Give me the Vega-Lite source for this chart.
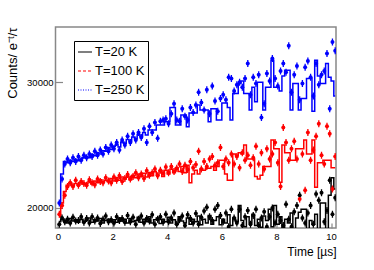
{
"$schema": "https://vega.github.io/schema/vega-lite/v6.json",
"width": 280.5, "height": 201,
"autosize": {"type": "none"},
"padding": {"left": 55.5, "top": 27, "right": 38, "bottom": 42},
"background": "white",
"config": {
  "view": {"stroke": "#888888", "strokeWidth": 1.5},
  "font": "Liberation Sans",
  "axis": {"domain": false, "grid": false, "tickColor": "#888888", "tickWidth": 1.2, "labelFont": "Liberation Sans", "titleFont": "Liberation Sans", "labelColor": "black", "titleColor": "black", "titleFontWeight": "normal", "labelFontSize": 9.5, "titleFontSize": 12}
},
"datasets": {
"d": [
{"s":"T=20 K","t":0.05,"h":18900,"p":18700},{"s":"T=20 K","t":0.15,"h":19100,"p":19200},{"s":"T=20 K","t":0.25,"h":19000,"p":18900},{"s":"T=20 K","t":0.35,"h":18800,"p":19100},{"s":"T=20 K","t":0.45,"h":19150,"p":18800},{"s":"T=20 K","t":0.55,"h":18950,"p":19250},{"s":"T=20 K","t":0.65,"h":19050,"p":18950},{"s":"T=20 K","t":0.75,"h":18850,"p":19000},{"s":"T=20 K","t":0.85,"h":19100,"p":19300},{"s":"T=20 K","t":0.95,"h":18900,"p":18850},
{"s":"T=20 K","t":1.05,"h":19000,"p":19150},{"s":"T=20 K","t":1.15,"h":19200,"p":18800},{"s":"T=20 K","t":1.25,"h":18850,"p":19300},{"s":"T=20 K","t":1.35,"h":19050,"p":18950},{"s":"T=20 K","t":1.45,"h":18950,"p":19200},{"s":"T=20 K","t":1.55,"h":19150,"p":18750},{"s":"T=20 K","t":1.65,"h":18800,"p":19100},{"s":"T=20 K","t":1.75,"h":19000,"p":19350},{"s":"T=20 K","t":1.85,"h":19100,"p":18900},{"s":"T=20 K","t":1.95,"h":18900,"p":19050},
{"s":"T=20 K","t":2.05,"h":19050,"p":18800},{"s":"T=20 K","t":2.15,"h":18850,"p":19300},{"s":"T=20 K","t":2.25,"h":19200,"p":19000},{"s":"T=20 K","t":2.35,"h":18950,"p":19150},{"s":"T=20 K","t":2.45,"h":19100,"p":18850},{"s":"T=20 K","t":2.55,"h":18800,"p":19400},{"s":"T=20 K","t":2.65,"h":19150,"p":18900},{"s":"T=20 K","t":2.75,"h":18900,"p":19250},{"s":"T=20 K","t":2.85,"h":19000,"p":18700},{"s":"T=20 K","t":2.95,"h":19250,"p":19100},
{"s":"T=20 K","t":3.05,"h":18850,"p":19350},{"s":"T=20 K","t":3.15,"h":19100,"p":18800},{"s":"T=20 K","t":3.25,"h":18900,"p":19150},{"s":"T=20 K","t":3.35,"h":19300,"p":18950},{"s":"T=20 K","t":3.45,"h":18800,"p":19450},{"s":"T=20 K","t":3.55,"h":19050,"p":18700},{"s":"T=20 K","t":3.65,"h":19200,"p":19100},{"s":"T=20 K","t":3.75,"h":18750,"p":19300},{"s":"T=20 K","t":3.85,"h":19100,"p":18850},{"s":"T=20 K","t":3.95,"h":18900,"p":19500},
{"s":"T=20 K","t":4.05,"h":19250,"p":18900},{"s":"T=20 K","t":4.15,"h":18800,"p":19200},{"s":"T=20 K","t":4.25,"h":19050,"p":19600},{"s":"T=20 K","t":4.35,"h":18700,"p":18700},{"s":"T=20 K","t":4.45,"h":19300,"p":19050},{"s":"T=20 K","t":4.55,"h":18950,"p":19350},{"s":"T=20 K","t":4.65,"h":18800,"p":18600},{"s":"T=20 K","t":4.75,"h":19200,"p":19450},{"s":"T=20 K","t":4.85,"h":18700,"p":19150},{"s":"T=20 K","t":4.95,"h":19100,"p":18800},
{"s":"T=20 K","t":5.05,"h":18900,"p":19550},{"s":"T=20 K","t":5.15,"h":19350,"p":18700},{"s":"T=20 K","t":5.25,"h":18650,"p":19250},{"s":"T=20 K","t":5.35,"h":19100,"p":19750},{"s":"T=20 K","t":5.45,"h":18800,"p":20050},{"s":"T=20 K","t":5.55,"h":19400,"p":19300},{"s":"T=20 K","t":5.65,"h":18700,"p":19000},{"s":"T=20 K","t":5.75,"h":19000,"p":19900},{"s":"T=20 K","t":5.85,"h":19300,"p":20200},{"s":"T=20 K","t":5.95,"h":18650,"p":19400},
{"s":"T=20 K","t":6.05,"h":19100,"p":18900},{"s":"T=20 K","t":6.15,"h":18800,"p":19600},{"s":"T=20 K","t":6.25,"h":19450,"p":18500},{"s":"T=20 K","t":6.35,"h":18600,"p":19900},{"s":"T=20 K","t":6.45,"h":19200,"p":19200},{"s":"T=20 K","t":6.55,"h":18900,"p":18800},{"s":"T=20 K","t":6.65,"h":20200,"p":19900},{"s":"T=20 K","t":6.75,"h":19000,"p":18600},{"s":"T=20 K","t":6.85,"h":18500,"p":19300},{"s":"T=20 K","t":6.95,"h":19300,"p":19800},
{"s":"T=20 K","t":7.05,"h":18800,"p":18700},{"s":"T=20 K","t":7.15,"h":19500,"p":19400},{"s":"T=20 K","t":7.25,"h":18600,"p":19900},{"s":"T=20 K","t":7.35,"h":19100,"p":18600},{"s":"T=20 K","t":7.45,"h":18450,"p":19200},{"s":"T=20 K","t":7.55,"h":19350,"p":19700},{"s":"T=20 K","t":7.65,"h":19000,"p":18500},{"s":"T=20 K","t":7.75,"h":19900,"p":19300},{"s":"T=20 K","t":7.85,"h":18500,"p":20000},{"s":"T=20 K","t":7.95,"h":20200,"p":18800},
{"s":"T=20 K","t":8.05,"h":18700,"p":19500},{"s":"T=20 K","t":8.15,"h":19300,"p":19000},{"s":"T=20 K","t":8.25,"h":18400,"p":18600},{"s":"T=20 K","t":8.35,"h":19100,"p":20300},{"s":"T=20 K","t":8.45,"h":18800,"p":19100},{"s":"T=20 K","t":8.55,"h":19600,"p":18500},{"s":"T=20 K","t":8.65,"h":18300,"p":19700},{"s":"T=20 K","t":8.75,"h":19200,"p":20200},{"s":"T=20 K","t":8.85,"h":19650,"p":21000},{"s":"T=20 K","t":8.95,"h":19900,"p":19200},
{"s":"T=20 K","t":9.05,"h":19900,"p":18800},{"s":"T=20 K","t":9.15,"h":18000,"p":19600},{"s":"T=20 K","t":9.25,"h":19000,"p":20200},{"s":"T=20 K","t":9.35,"h":18700,"p":18700},{"s":"T=20 K","t":9.45,"h":19500,"p":21100},{"s":"T=20 K","t":9.55,"h":18100,"p":20600},{"s":"T=20 K","t":9.65,"h":20400,"p":21200},{"s":"T=20 K","t":9.75,"h":20400,"p":18900},{"s":"T=20 K","t":9.85,"h":18200,"p":19800},{"s":"T=20 K","t":9.95,"h":21000,"p":22200},
{"s":"T=20 K","t":10.05,"h":22400,"p":19500},{"s":"T=20 K","t":10.15,"h":21500,"p":20800},

{"s":"T=100 K","t":0.05,"h":19300,"p":19500},{"s":"T=100 K","t":0.15,"h":20400,"p":20200},{"s":"T=100 K","t":0.25,"h":21300,"p":21000},{"s":"T=100 K","t":0.35,"h":21800,"p":21700},{"s":"T=100 K","t":0.45,"h":22000,"p":22000},{"s":"T=100 K","t":0.55,"h":21800,"p":21700},{"s":"T=100 K","t":0.65,"h":21950,"p":22200},{"s":"T=100 K","t":0.75,"h":21850,"p":21800},{"s":"T=100 K","t":0.85,"h":22000,"p":22100},{"s":"T=100 K","t":0.95,"h":21900,"p":21950},
{"s":"T=100 K","t":1.05,"h":21950,"p":21800},{"s":"T=100 K","t":1.15,"h":22100,"p":22250},{"s":"T=100 K","t":1.25,"h":21900,"p":22000},{"s":"T=100 K","t":1.35,"h":22150,"p":21850},{"s":"T=100 K","t":1.45,"h":22000,"p":22300},{"s":"T=100 K","t":1.55,"h":22250,"p":22100},{"s":"T=100 K","t":1.65,"h":22050,"p":22000},{"s":"T=100 K","t":1.75,"h":22200,"p":22400},{"s":"T=100 K","t":1.85,"h":22100,"p":22150},{"s":"T=100 K","t":1.95,"h":22350,"p":22000},
{"s":"T=100 K","t":2.05,"h":22150,"p":22450},{"s":"T=100 K","t":2.15,"h":22400,"p":22200},{"s":"T=100 K","t":2.25,"h":22200,"p":22550},{"s":"T=100 K","t":2.35,"h":22450,"p":22100},{"s":"T=100 K","t":2.45,"h":22300,"p":22350},{"s":"T=100 K","t":2.55,"h":22500,"p":22650},{"s":"T=100 K","t":2.65,"h":22250,"p":22300},{"s":"T=100 K","t":2.75,"h":22600,"p":22500},{"s":"T=100 K","t":2.85,"h":22400,"p":22800},{"s":"T=100 K","t":2.95,"h":22700,"p":22400},
{"s":"T=100 K","t":3.05,"h":22500,"p":22700},{"s":"T=100 K","t":3.15,"h":22750,"p":22350},{"s":"T=100 K","t":3.25,"h":22450,"p":22950},{"s":"T=100 K","t":3.35,"h":22800,"p":22600},{"s":"T=100 K","t":3.45,"h":22550,"p":22800},{"s":"T=100 K","t":3.55,"h":22900,"p":23100},{"s":"T=100 K","t":3.65,"h":22600,"p":22550},{"s":"T=100 K","t":3.75,"h":22950,"p":23000},{"s":"T=100 K","t":3.85,"h":22500,"p":22750},{"s":"T=100 K","t":3.95,"h":23000,"p":23250},
{"s":"T=100 K","t":4.05,"h":22700,"p":22800},{"s":"T=100 K","t":4.15,"h":23100,"p":23300},{"s":"T=100 K","t":4.25,"h":22800,"p":22900},{"s":"T=100 K","t":4.35,"h":23200,"p":23150},{"s":"T=100 K","t":4.45,"h":22900,"p":23500},{"s":"T=100 K","t":4.55,"h":23300,"p":22900},{"s":"T=100 K","t":4.65,"h":22800,"p":23400},{"s":"T=100 K","t":4.75,"h":23400,"p":23050},{"s":"T=100 K","t":4.85,"h":22000,"p":23700},{"s":"T=100 K","t":4.95,"h":22700,"p":23200},
{"s":"T=100 K","t":5.05,"h":23000,"p":23450},{"s":"T=100 K","t":5.15,"h":22700,"p":24500},{"s":"T=100 K","t":5.25,"h":23100,"p":23100},{"s":"T=100 K","t":5.35,"h":23000,"p":23700},{"s":"T=100 K","t":5.45,"h":23150,"p":23300},{"s":"T=100 K","t":5.55,"h":23150,"p":23900},{"s":"T=100 K","t":5.65,"h":23300,"p":24100},{"s":"T=100 K","t":5.75,"h":23000,"p":23400},{"s":"T=100 K","t":5.85,"h":23300,"p":23600},{"s":"T=100 K","t":5.95,"h":23800,"p":24800},
{"s":"T=100 K","t":6.05,"h":23800,"p":23300},{"s":"T=100 K","t":6.15,"h":22700,"p":23900},{"s":"T=100 K","t":6.25,"h":22200,"p":23600},{"s":"T=100 K","t":6.35,"h":22200,"p":24300},{"s":"T=100 K","t":6.45,"h":24300,"p":23500},{"s":"T=100 K","t":6.55,"h":24200,"p":24100},{"s":"T=100 K","t":6.65,"h":24400,"p":23200},{"s":"T=100 K","t":6.75,"h":24300,"p":24400},{"s":"T=100 K","t":6.85,"h":25000,"p":23800},{"s":"T=100 K","t":6.95,"h":23900,"p":24200},
{"s":"T=100 K","t":7.05,"h":23900,"p":23400},{"s":"T=100 K","t":7.15,"h":23900,"p":24000},{"s":"T=100 K","t":7.25,"h":22500,"p":24900},{"s":"T=100 K","t":7.35,"h":22300,"p":23500},{"s":"T=100 K","t":7.45,"h":22600,"p":24400},{"s":"T=100 K","t":7.55,"h":23300,"p":23100},{"s":"T=100 K","t":7.65,"h":23300,"p":24700},{"s":"T=100 K","t":7.75,"h":23300,"p":23900},{"s":"T=100 K","t":7.85,"h":25400,"p":24300},{"s":"T=100 K","t":7.95,"h":24700,"p":25200},
{"s":"T=100 K","t":8.05,"h":24700,"p":23600},{"s":"T=100 K","t":8.15,"h":22050,"p":21700},{"s":"T=100 K","t":8.25,"h":25000,"p":26400},{"s":"T=100 K","t":8.35,"h":24400,"p":25200},{"s":"T=100 K","t":8.45,"h":24400,"p":23800},{"s":"T=100 K","t":8.55,"h":23800,"p":24700},{"s":"T=100 K","t":8.65,"h":23800,"p":25300},{"s":"T=100 K","t":8.75,"h":24700,"p":23900},{"s":"T=100 K","t":8.85,"h":24700,"p":20700},{"s":"T=100 K","t":8.95,"h":24700,"p":24300},
{"s":"T=100 K","t":9.05,"h":25400,"p":21400},{"s":"T=100 K","t":9.15,"h":24300,"p":26000},{"s":"T=100 K","t":9.25,"h":24300,"p":23800},{"s":"T=100 K","t":9.35,"h":25400,"p":24600},{"s":"T=100 K","t":9.45,"h":21650,"p":25700},{"s":"T=100 K","t":9.55,"h":23600,"p":26700},{"s":"T=100 K","t":9.65,"h":23600,"p":24200},{"s":"T=100 K","t":9.75,"h":23800,"p":23500},{"s":"T=100 K","t":9.85,"h":23800,"p":26500},{"s":"T=100 K","t":9.95,"h":23800,"p":25900},
{"s":"T=100 K","t":10.05,"h":23200,"p":21500},{"s":"T=100 K","t":10.15,"h":23200,"p":24100},

{"s":"T=250 K","t":0.05,"h":20500,"p":20400},{"s":"T=250 K","t":0.15,"h":22700,"p":22300},{"s":"T=250 K","t":0.25,"h":23700,"p":23500},{"s":"T=250 K","t":0.35,"h":23600,"p":23900},{"s":"T=250 K","t":0.45,"h":23800,"p":23600},{"s":"T=250 K","t":0.55,"h":23700,"p":24000},{"s":"T=250 K","t":0.65,"h":23850,"p":23700},{"s":"T=250 K","t":0.75,"h":23750,"p":24100},{"s":"T=250 K","t":0.85,"h":23900,"p":23800},{"s":"T=250 K","t":0.95,"h":24000,"p":24200},
{"s":"T=250 K","t":1.05,"h":24100,"p":24000},{"s":"T=250 K","t":1.15,"h":24000,"p":24300},{"s":"T=250 K","t":1.25,"h":24250,"p":24100},{"s":"T=250 K","t":1.35,"h":24150,"p":24500},{"s":"T=250 K","t":1.45,"h":24400,"p":24200},{"s":"T=250 K","t":1.55,"h":24300,"p":24600},{"s":"T=250 K","t":1.65,"h":24550,"p":24300},{"s":"T=250 K","t":1.75,"h":24500,"p":24800},{"s":"T=250 K","t":1.85,"h":24800,"p":24500},{"s":"T=250 K","t":1.95,"h":24650,"p":25000},
{"s":"T=250 K","t":2.05,"h":24900,"p":24700},{"s":"T=250 K","t":2.15,"h":25050,"p":25200},{"s":"T=250 K","t":2.25,"h":24850,"p":24600},{"s":"T=250 K","t":2.35,"h":25250,"p":25400},{"s":"T=250 K","t":2.45,"h":25150,"p":25000},{"s":"T=250 K","t":2.55,"h":25450,"p":25700},{"s":"T=250 K","t":2.65,"h":25300,"p":25200},{"s":"T=250 K","t":2.75,"h":25650,"p":25900},{"s":"T=250 K","t":2.85,"h":25500,"p":25400},{"s":"T=250 K","t":2.95,"h":25850,"p":26000},
{"s":"T=250 K","t":3.05,"h":25700,"p":25600},{"s":"T=250 K","t":3.15,"h":26000,"p":26300},{"s":"T=250 K","t":3.25,"h":25800,"p":25200},{"s":"T=250 K","t":3.35,"h":26200,"p":26500},{"s":"T=250 K","t":3.45,"h":26200,"p":26000},{"s":"T=250 K","t":3.55,"h":26200,"p":26800},{"s":"T=250 K","t":3.65,"h":26600,"p":25550},{"s":"T=250 K","t":3.75,"h":26600,"p":26900},{"s":"T=250 K","t":3.85,"h":26600,"p":27000},{"s":"T=250 K","t":3.95,"h":26850,"p":27100},
{"s":"T=250 K","t":4.05,"h":26850,"p":26700},{"s":"T=250 K","t":4.15,"h":28000,"p":27500},{"s":"T=250 K","t":4.25,"h":28000,"p":28300},{"s":"T=250 K","t":4.35,"h":26600,"p":27000},{"s":"T=250 K","t":4.45,"h":26600,"p":26900},{"s":"T=250 K","t":4.55,"h":27400,"p":27900},{"s":"T=250 K","t":4.65,"h":27400,"p":27300},{"s":"T=250 K","t":4.75,"h":26450,"p":27000},{"s":"T=250 K","t":4.85,"h":27550,"p":28000},{"s":"T=250 K","t":4.95,"h":27550,"p":27600},
{"s":"T=250 K","t":5.05,"h":27550,"p":28200},{"s":"T=250 K","t":5.15,"h":28200,"p":29200},{"s":"T=250 K","t":5.25,"h":27800,"p":28400},{"s":"T=250 K","t":5.35,"h":27800,"p":27800},{"s":"T=250 K","t":5.45,"h":27800,"p":29400},{"s":"T=250 K","t":5.55,"h":26850,"p":27500},{"s":"T=250 K","t":5.65,"h":27900,"p":29700},{"s":"T=250 K","t":5.75,"h":27900,"p":28500},{"s":"T=250 K","t":5.85,"h":27000,"p":27700},{"s":"T=250 K","t":5.95,"h":27000,"p":28700},
{"s":"T=250 K","t":6.05,"h":28350,"p":29000},{"s":"T=250 K","t":6.15,"h":28350,"p":28600},{"s":"T=250 K","t":6.25,"h":28000,"p":30400},{"s":"T=250 K","t":6.35,"h":27000,"p":30300},{"s":"T=250 K","t":6.45,"h":29100,"p":29300},{"s":"T=250 K","t":6.55,"h":29100,"p":29800},{"s":"T=250 K","t":6.65,"h":29900,"p":30000},{"s":"T=250 K","t":6.75,"h":30100,"p":29600},{"s":"T=250 K","t":6.85,"h":29100,"p":30300},{"s":"T=250 K","t":6.95,"h":29100,"p":31500},
{"s":"T=250 K","t":7.05,"h":27800,"p":29000},{"s":"T=250 K","t":7.15,"h":29600,"p":30400},{"s":"T=250 K","t":7.25,"h":28450,"p":29900},{"s":"T=250 K","t":7.35,"h":30000,"p":30600},{"s":"T=250 K","t":7.45,"h":30000,"p":27200},{"s":"T=250 K","t":7.55,"h":27800,"p":28300},{"s":"T=250 K","t":7.65,"h":29600,"p":30700},{"s":"T=250 K","t":7.75,"h":29600,"p":30100},{"s":"T=250 K","t":7.85,"h":31750,"p":31900},{"s":"T=250 K","t":7.95,"h":29600,"p":30300},
{"s":"T=250 K","t":8.05,"h":29600,"p":29700},{"s":"T=250 K","t":8.15,"h":29300,"p":30900},{"s":"T=250 K","t":8.25,"h":30500,"p":31500},{"s":"T=250 K","t":8.35,"h":30950,"p":30800},{"s":"T=250 K","t":8.45,"h":30950,"p":32900},{"s":"T=250 K","t":8.55,"h":27800,"p":29200},{"s":"T=250 K","t":8.65,"h":29900,"p":30600},{"s":"T=250 K","t":8.75,"h":29900,"p":31300},{"s":"T=250 K","t":8.85,"h":27800,"p":28600},{"s":"T=250 K","t":8.95,"h":28700,"p":29900},
{"s":"T=250 K","t":9.05,"h":28700,"p":31200},{"s":"T=250 K","t":9.15,"h":30300,"p":31700},{"s":"T=250 K","t":9.25,"h":30300,"p":30400},{"s":"T=250 K","t":9.35,"h":27700,"p":28900},{"s":"T=250 K","t":9.45,"h":31750,"p":31500},{"s":"T=250 K","t":9.55,"h":30500,"p":29800},{"s":"T=250 K","t":9.65,"h":29900,"p":30600},{"s":"T=250 K","t":9.75,"h":29900,"p":30900},{"s":"T=250 K","t":9.85,"h":31500,"p":32300},{"s":"T=250 K","t":9.95,"h":30400,"p":27900},
{"s":"T=250 K","t":10.05,"h":30100,"p":33200},{"s":"T=250 K","t":10.15,"h":28900,"p":32500}
]
},
"data": {"name": "d"},
"encoding": {
  "x": {"field": "t", "type": "quantitative", "scale": {"domain": [-0.09, 10.18], "nice": false, "zero": false},
        "axis": {"values": [0, 2, 4, 6, 8, 10], "tickSize": -5, "labelPadding": 8, "labelFlush": false, "title": "Time [µs]", "titleAnchor": "end", "titleAlign": "right", "titlePadding": 6}},
  "color": {"field": "s", "type": "nominal", "sort": ["T=20 K", "T=100 K", "T=250 K"],
            "scale": {"domain": ["T=20 K", "T=100 K", "T=250 K"], "range": ["#000000", "#ff0000", "#0000ff"]},
            "legend": {"title": null, "orient": "none", "legendX": 18.5, "legendY": 14, "symbolType": "stroke", "symbolSize": 196, "symbolStrokeWidth": 1.2,
                       "labelFont": "Liberation Sans", "labelFontSize": 13, "labelColor": "black", "labelOffset": 2, "rowPadding": 4, "padding": 3,
                       "strokeColor": "black", "fillColor": "white",
                       "encode": {"symbols": {"update": {"strokeDash": {"signal": "datum.value === 'T=100 K' ? [3, 2] : (datum.value === 'T=250 K' ? [1, 1.5] : [1, 0])"}}}}}}
},
"layer": [
  {"mark": {"type": "line", "interpolate": "step", "strokeWidth": 1.5, "clip": true},
   "encoding": {"y": {"field": "h", "type": "quantitative", "scale": {"domain": [18400, 34400], "nice": false, "zero": false},
                      "axis": {"values": [20000, 30000], "format": "d", "tickSize": -7, "labelPadding": 9.5, "title": "Counts/ e⁻ᵗ/τ", "titleAnchor": "end", "titleFontSize": 13, "titlePadding": 7}}}},
  {"mark": {"type": "point", "shape": "M0,-1L0,1", "filled": false, "strokeWidth": 1.3, "size": 49, "opacity": 1, "clip": true},
   "encoding": {"y": {"field": "p", "type": "quantitative"}, "color": {"field": "s", "type": "nominal", "legend": null}}},
  {"mark": {"type": "circle", "size": 16, "opacity": 1, "clip": true},
   "encoding": {"y": {"field": "p", "type": "quantitative"}, "color": {"field": "s", "type": "nominal", "legend": null}}}
]
}
